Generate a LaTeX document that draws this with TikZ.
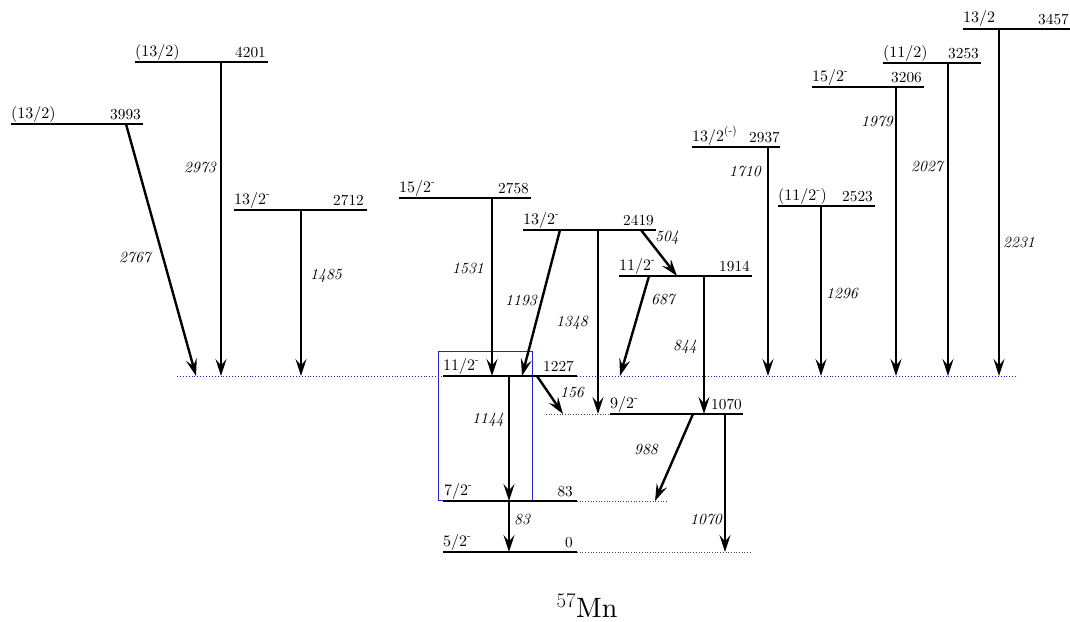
\documentclass[tikz,border=0pt]{standalone}
\usepackage{fontspec}
\setmainfont{lmroman10-regular.otf}[ItalicFont=lmroman10-italic.otf, BoldFont=lmroman10-bold.otf]
\usetikzlibrary{arrows.meta}
\definecolor{boxblue}{RGB}{35,35,200}
\begin{document}
\begin{tikzpicture}[x=1pt,y=-1pt,
  lvl/.style={line width=1.5pt},
  ext/.style={line width=0.7pt, dotted, black!70},
  gam/.style={line width=2.4pt, -{Stealth[length=17pt,width=11pt,inset=6.5pt]}},
  spin/.style={font=\fontsize{16}{17}\selectfont, anchor=base west, inner sep=0pt},
  en/.style={font=\fontsize{15.3}{16}\selectfont, anchor=base east, inner sep=0pt},
  glab/.style={font=\fontsize{15.5}{16}\selectfont\itshape, inner sep=0pt},
]
\useasboundingbox (0,0) rectangle (1070,621);

% reference level and extensions
\draw[boxblue, dotted, line width=0.9pt] (177,376) -- (1017,376);
\draw[ext] (546,414) -- (610,414);
\draw[ext] (577,501) -- (668,501);
\draw[ext] (577,552) -- (752,552);

% box
\draw[boxblue, line width=1pt] (438,351) rectangle (532,500);

% levels
\draw[lvl] (11,124) -- (143,124);
\node[spin] (s3993) at (11,118) {(13/2)};
\node[en] (e3993) at (141,119) {3993};

\draw[lvl] (135,62) -- (268,62);
\node[spin] (s4201) at (135,56) {(13/2)};
\node[en] (e4201) at (266,57) {4201};

\draw[lvl] (234,210) -- (367,210);
\node[spin] (s2712) at (234,204) {13/2\textsuperscript{-}};
\node[en] (e2712) at (364,205) {2712};

\draw[lvl] (399,198) -- (531,198);
\node[spin] (s2758) at (399,192) {15/2\textsuperscript{-}};
\node[en] (e2758) at (529,193) {2758};

\draw[lvl] (523,230) -- (656,230);
\node[spin] (s2419) at (523,224) {13/2\textsuperscript{-}};
\node[en] (e2419) at (654,225) {2419};

\draw[lvl] (619,276) -- (752,276);
\node[spin] (s1914) at (619,270) {11/2\textsuperscript{-}};
\node[en] (e1914) at (750,271) {1914};

\draw[lvl] (692,147) -- (780,147);
\node[spin] (s2937) at (692,141) {13/2\textsuperscript{(-)}};
\node[en] (e2937) at (780,142) {2937};

\draw[lvl] (778,206) -- (875,206);
\node[spin] (s2523) at (778,200) {(11/2\textsuperscript{-})};
\node[en] (e2523) at (873,201) {2523};

\draw[lvl] (812,87) -- (924,87);
\node[spin] (s3206) at (812,81) {15/2\textsuperscript{-}};
\node[en] (e3206) at (922,82) {3206};

\draw[lvl] (883,63) -- (981,63);
\node[spin] (s3253) at (883,57) {(11/2)};
\node[en] (e3253) at (979,58) {3253};

\draw[lvl] (963,29) -- (1070,29);
\node[spin] (s3457) at (963,23) {13/2};
\node[en] (e3457) at (1069,24) {3457};

\draw[lvl] (443,376) -- (577,376);
\node[spin] (s1227) at (443,370) {11/2\textsuperscript{-}};
\node[en] (e1227) at (574,371) {1227};

\draw[lvl] (610,414) -- (743,414);
\node[spin] (s1070) at (610,408) {9/2\textsuperscript{-}};
\node[en] (e1070) at (742,409) {1070};

\draw[lvl] (443,501) -- (577,501);
\node[spin] (s83) at (444,495) {7/2\textsuperscript{-}};
\node[en] (e83) at (573,496) {83};

\draw[lvl] (443,552) -- (577,552);
\node[spin] (s0) at (443,546) {5/2\textsuperscript{-}};
\node[en] (e0) at (573,547) {0};

% transition end points
\coordinate (a2767) at (126,124);  \coordinate (b2767) at (196,376);
\coordinate (a2973) at (221,62);   \coordinate (b2973) at (221,376);
\coordinate (a1485) at (301,210);  \coordinate (b1485) at (301,376);
\coordinate (a1531) at (492,198);  \coordinate (b1531) at (492,376);
\coordinate (a1193) at (560,230);  \coordinate (b1193) at (522,376);
\coordinate (a1348) at (598,230);  \coordinate (b1348) at (598,414);
\coordinate (a504)  at (641,230);  \coordinate (b504)  at (677,276);
\coordinate (a687)  at (649,276);  \coordinate (b687)  at (620,376);
\coordinate (a844)  at (704,276);  \coordinate (b844)  at (704,414);
\coordinate (a156)  at (537,376);  \coordinate (b156)  at (563,414);
\coordinate (a1144) at (509,376);  \coordinate (b1144) at (509,501);
\coordinate (a988)  at (693,414);  \coordinate (b988)  at (655,501);
\coordinate (a83)   at (509,501);  \coordinate (b83)   at (509,552);
\coordinate (a1070) at (725,414);  \coordinate (b1070) at (725,552);
\coordinate (a1710) at (768,147);  \coordinate (b1710) at (768,376);
\coordinate (a1296) at (821,206);  \coordinate (b1296) at (821,376);
\coordinate (a1979) at (896,87);   \coordinate (b1979) at (896,376);
\coordinate (a2027) at (948,63);   \coordinate (b2027) at (948,376);
\coordinate (a2231) at (999,29);   \coordinate (b2231) at (999,376);

% transitions
\foreach \t in {2767,2973,1485,1531,1193,1348,504,687,844,156,1144,988,83,1070,1710,1296,1979,2027,2231}
  \draw[gam] (a\t) -- (b\t);

% transition labels
\node[glab] (g2767) at (135,258) {2767};
\node[glab] (g2973) at (200,168) {2973};
\node[glab] (g1485) at (326,276) {1485};
\node[glab] (g1531) at (468,269) {1531};
\node[glab] (g1193) at (521,301) {1193};
\node[glab] (g1348) at (572,323) {1348};
\node[glab] (g504)  at (667,238) {504};
\node[glab] (g687)  at (663,300) {687};
\node[glab] (g844)  at (685,347) {844};
\node[glab] (g156)  at (572,393) {156};
\node[glab] (g1144) at (488,420) {1144};
\node[glab] (g988)  at (646,450) {988};
\node[glab] (g83)   at (522,520) {83};
\node[glab] (g1070) at (706,520) {1070};
\node[glab] (g1710) at (745,172) {1710};
\node[glab] (g1296) at (842,294) {1296};
\node[glab] (g1979) at (877,122) {1979};
\node[glab] (g2027) at (927,167) {2027};
\node[glab] (g2231) at (1019,243) {2231};

% nucleus
\node[font=\fontsize{28}{30}\selectfont, anchor=base, inner sep=0pt] (nuc) at (587,617) {$^{57}$Mn};
\end{tikzpicture}
\end{document}
